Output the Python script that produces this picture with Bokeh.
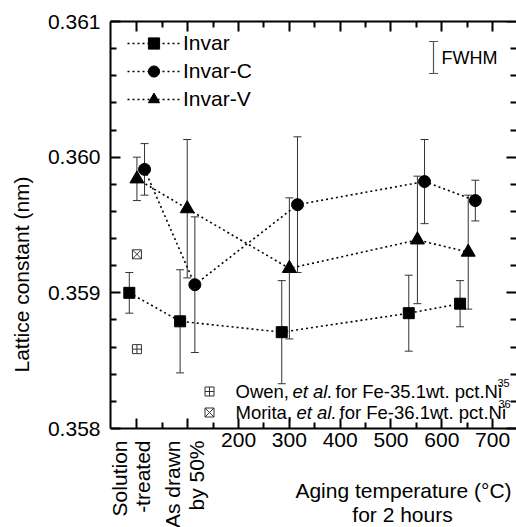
import math
from bokeh.plotting import figure
from bokeh.models import (Range1d, LinearAxis, FixedTicker, Whisker, ColumnDataSource,
                          Legend, LegendItem, Label, TeeHead, PrintfTickFormatter)
from bokeh.embed import file_html
from bokeh.resources import INLINE

# ---------------- data ----------------
invar_x = [-15, 85, 285, 535, 636]
invar_y = [0.35900, 0.35879, 0.35871, 0.35885, 0.35892]
invar_err = [0.00015, 0.00038, 0.00038, 0.00028, 0.00017]

invarC_x = [15, 114, 316, 566, 666]
invarC_y = [0.35991, 0.35906, 0.35965, 0.35982, 0.35968]
invarC_err = [0.00019, 0.00050, 0.00050, 0.00031, 0.00015]

invarV_x = [0, 99, 300, 552, 652]
invarV_y = [0.35984, 0.35962, 0.35918, 0.35939, 0.35930]
invarV_err = [0.00016, 0.00051, 0.00052, 0.00047, 0.00042]

owen_x = [0]
owen_y = [0.358585]
morita_x = [0]
morita_y = [0.359284]

x_major = [0, 100, 200, 300, 400, 500, 600, 700]
x_minor = [50, 150, 250, 350, 450, 550, 650, 750]
y_major = [0.358, 0.359, 0.360, 0.361]
y_minor = [0.3582, 0.3584, 0.3586, 0.3588, 0.3592, 0.3594, 0.3596, 0.3598,
           0.3602, 0.3604, 0.3606, 0.3608]

# ---------------- layout helpers ----------------
W, H = 516, 527
X0, X1, Y0, Y1 = -52, 747, 0.358, 0.361
FL, FR, FT, FB = 110, 516, 21, 428          # plot box (pixels)
Y_START = Y0 - (H - FB) * (Y1 - Y0) / (FB - FT)   # frame extends to canvas bottom


def dx(px):
    return X0 + (px - FL) * (X1 - X0) / (FR - FL)


def dy(py):
    return Y1 - (py - FT) * (Y1 - Y0) / (FB - FT)


FONT = "Liberation Sans"
INK = "#000000"
BAR = "#333333"

p = figure(width=W, height=H, x_range=Range1d(X0, X1), y_range=Range1d(Y_START, Y1),
           output_backend="svg", toolbar_location=None,
           min_border_left=FL, min_border_top=FT, min_border_bottom=0,
           min_border_right=0)
p.outline_line_color = None
p.xgrid.visible = False
p.ygrid.visible = False
p.background_fill_color = "white"
p.border_fill_color = "white"

xt = FixedTicker(ticks=x_major, minor_ticks=x_minor)
yt = FixedTicker(ticks=y_major, minor_ticks=y_minor)


def style_axis(ax):
    ax.axis_line_width = 2
    ax.axis_line_color = INK
    ax.major_tick_in = 10
    ax.major_tick_out = 0
    ax.minor_tick_in = 6
    ax.minor_tick_out = 0
    ax.major_tick_line_width = 2
    ax.minor_tick_line_width = 2
    ax.major_tick_line_color = INK
    ax.minor_tick_line_color = INK
    ax.major_label_text_font = FONT
    ax.major_label_text_font_size = "21px"
    ax.major_label_text_color = INK


bx = p.below[0]
bx.ticker = xt
style_axis(bx)
bx.fixed_location = Y0
bx.major_label_overrides = {0: "", 100: ""}
bx.major_label_standoff = 4

ly = p.left[0]
ly.ticker = yt
style_axis(ly)
ly.bounds = (Y0, Y1)
ly.formatter = PrintfTickFormatter(format="%.3f")
ly.major_label_standoff = 10
ly.axis_label = "Lattice constant (nm)"
ly.axis_label_text_font = FONT
ly.axis_label_text_font_size = "21px"
ly.axis_label_text_font_style = "normal"
ly.axis_label_text_color = INK
ly.axis_label_standoff = 12

tx = LinearAxis(ticker=xt)
style_axis(tx)
tx.major_label_text_font_size = "0px"
tx.major_label_standoff = 0
p.add_layout(tx, "above")

ry = LinearAxis(ticker=yt, fixed_location=X1, bounds=(Y0, Y1))
style_axis(ry)
ry.axis_line_color = None
ry.major_label_text_font_size = "0px"
ry.major_label_standoff = 0
p.add_layout(ry, "right")

# ---------------- error bars ----------------
for xs, ys, es in [(invar_x, invar_y, invar_err), (invarC_x, invarC_y, invarC_err),
                   (invarV_x, invarV_y, invarV_err)]:
    src = ColumnDataSource(dict(x=xs, upper=[a + b for a, b in zip(ys, es)],
                                lower=[a - b for a, b in zip(ys, es)]))
    w = Whisker(base="x", upper="upper", lower="lower", source=src,
                line_color=BAR, line_width=1,
                upper_head=TeeHead(size=8, line_color=BAR, line_width=1),
                lower_head=TeeHead(size=8, line_color=BAR, line_width=1),
                level="underlay")
    p.add_layout(w)

# ---------------- series ----------------
items = []
for name, xs, ys, marker, size in [("Invar", invar_x, invar_y, "square", 11),
                                    ("Invar-C", invarC_x, invarC_y, "circle", 12),
                                    ("Invar-V", invarV_x, invarV_y, "triangle", 14)]:
    lr = p.line(xs, ys, line_color=INK, line_width=1.6, line_dash="2 3")
    sr = p.scatter(xs, ys, marker=marker, size=size, fill_color=INK, line_color=INK)
    items.append(LegendItem(label=name, renderers=[lr, sr]))

LEG_TOP, ROW_H = 29, 28
legend = Legend(items=items, location=(17, H - (LEG_TOP + 3 * ROW_H)), glyph_width=53,
                glyph_height=ROW_H, label_height=ROW_H, spacing=0, padding=0, margin=0,
                label_standoff=3, border_line_color=None, background_fill_alpha=0,
                label_text_font=FONT, label_text_font_size="21px",
                label_text_color=INK)
p.add_layout(legend)

# literature points
p.scatter(owen_x, owen_y, marker="square_cross", size=9, fill_color=None,
          line_color=BAR, line_width=1)
p.scatter(morita_x, morita_y, marker="square_x", size=9, fill_color=None,
          line_color=BAR, line_width=1)

# literature key markers
p.scatter([dx(209)], [dy(391)], marker="square_cross", size=9, fill_color=None,
          line_color=BAR, line_width=1)
p.scatter([dx(209)], [dy(412)], marker="square_x", size=9, fill_color=None,
          line_color=BAR, line_width=1)


def lab(px, py, text, size="18.5px", style="normal", align="left", baseline="middle",
        angle=0.0):
    p.add_layout(Label(x=dx(px), y=dy(py), text=text, text_font=FONT,
                       text_font_size=size, text_font_style=style, text_color=INK,
                       text_align=align, text_baseline=baseline, angle=angle))


lab(235, 391, "Owen,")
lab(292, 391, "et al.", style="italic")
lab(335, 391, "for Fe-35.1wt. pct.Ni")
lab(497, 382, "35", size="11px")
lab(235, 412, "Morita,")
lab(296, 412, "et al.", style="italic")
lab(339, 412, "for Fe-36.1wt. pct.Ni")
lab(498, 403, "36", size="11px")

# FWHM key
fsrc = ColumnDataSource(dict(x=[dx(433)], upper=[dy(41)], lower=[dy(73)]))
p.add_layout(Whisker(base="x", upper="upper", lower="lower", source=fsrc,
                     line_color="#555555", line_width=1.2,
                     upper_head=TeeHead(size=9, line_color="#555555", line_width=1.2),
                     lower_head=TeeHead(size=9, line_color="#555555", line_width=1.2)))
lab(441, 57, "FWHM", size="18px")

# rotated category tick labels
rot = math.pi / 2
lab(119, 440, "Solution", size="21px", align="right", angle=rot)
lab(142, 440, "-treated", size="21px", align="right", angle=rot)
lab(172, 440, "As drawn", size="21px", align="right", angle=rot)
lab(196, 440, "by 50%", size="21px", align="right", angle=rot)

# x-axis title
lab(403, 490, "Aging temperature (°C)", size="21px", align="center")
lab(402, 514, "for 2 hours", size="21px", align="center")

open("out.html", "w").write(file_html(p, INLINE))
